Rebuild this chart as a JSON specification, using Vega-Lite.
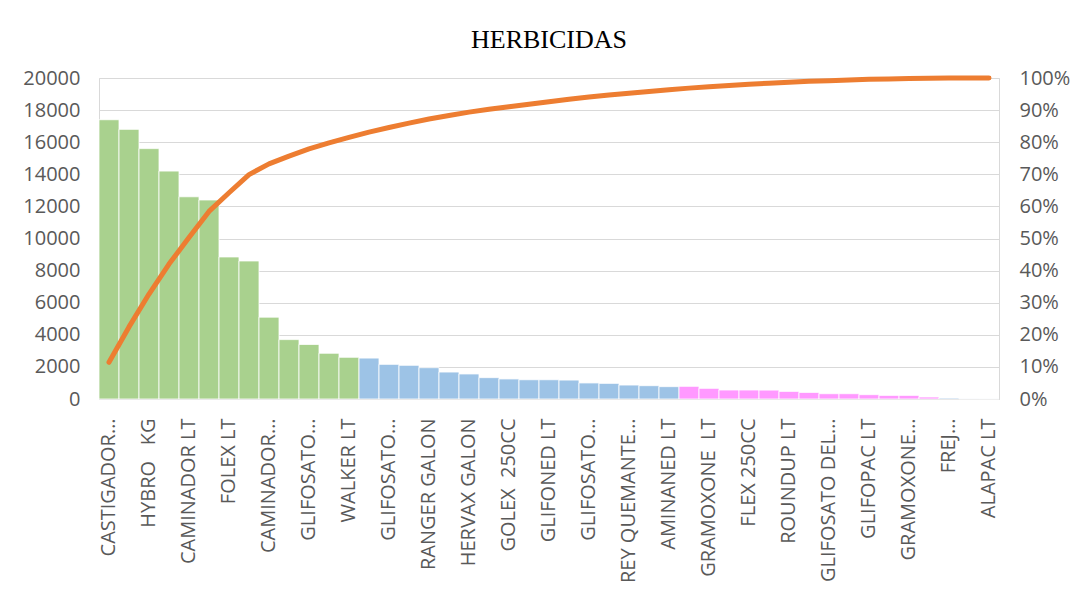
{
  "$schema": "https://vega.github.io/schema/vega-lite/v6.json",
  "width": 900,
  "height": 321,
  "autosize": "none",
  "padding": {"left": 99, "top": 78, "right": 79, "bottom": 204},
  "background": "#ffffff",
  "title": {"text": "HERBICIDAS", "font": "Liberation Serif", "fontSize": 26, "fontWeight": "normal", "color": "#000000", "anchor": "middle", "offset": 15},
  "config": {
    "view": {"stroke": "#D9D9D9"},
    "axis": {"labelFont": "Open Sans", "labelFontSize": 20, "labelColor": "#595959", "ticks": false, "domain": false}
  },
  "data": {"values": [
    {"producto": "CASTIGADOR…", "cantidad": 17400, "grupo": "A", "acumulado": 0.11425},
    {"producto": "producto 2", "cantidad": 16800, "grupo": "A", "acumulado": 0.22456},
    {"producto": "HYBRO\u00a0\u00a0\u00a0KG", "cantidad": 15600, "grupo": "A", "acumulado": 0.32699},
    {"producto": "producto 4", "cantidad": 14200, "grupo": "A", "acumulado": 0.42022},
    {"producto": "CAMINADOR LT", "cantidad": 12600, "grupo": "A", "acumulado": 0.50295},
    {"producto": "producto 6", "cantidad": 12400, "grupo": "A", "acumulado": 0.58437},
    {"producto": "FOLEX LT", "cantidad": 8850, "grupo": "A", "acumulado": 0.64248},
    {"producto": "producto 8", "cantidad": 8600, "grupo": "A", "acumulado": 0.69895},
    {"producto": "CAMINADOR…", "cantidad": 5100, "grupo": "A", "acumulado": 0.73244},
    {"producto": "producto 10", "cantidad": 3700, "grupo": "A", "acumulado": 0.75673},
    {"producto": "GLIFOSATO…", "cantidad": 3400, "grupo": "A", "acumulado": 0.77906},
    {"producto": "producto 12", "cantidad": 2850, "grupo": "A", "acumulado": 0.79777},
    {"producto": "WALKER LT", "cantidad": 2600, "grupo": "A", "acumulado": 0.81484},
    {"producto": "producto 14", "cantidad": 2550, "grupo": "B", "acumulado": 0.83158},
    {"producto": "GLIFOSATO…\u200b", "cantidad": 2160, "grupo": "B", "acumulado": 0.84577},
    {"producto": "producto 16", "cantidad": 2100, "grupo": "B", "acumulado": 0.85955},
    {"producto": "RANGER GALON", "cantidad": 1950, "grupo": "B", "acumulado": 0.87236},
    {"producto": "producto 18", "cantidad": 1680, "grupo": "B", "acumulado": 0.88339},
    {"producto": "HERVAX GALON", "cantidad": 1560, "grupo": "B", "acumulado": 0.89363},
    {"producto": "producto 20", "cantidad": 1330, "grupo": "B", "acumulado": 0.90236},
    {"producto": "GOLEX\u00a0\u00a0250CC", "cantidad": 1250, "grupo": "B", "acumulado": 0.91057},
    {"producto": "producto 22", "cantidad": 1200, "grupo": "B", "acumulado": 0.91845},
    {"producto": "GLIFONED LT", "cantidad": 1200, "grupo": "B", "acumulado": 0.92633},
    {"producto": "producto 24", "cantidad": 1180, "grupo": "B", "acumulado": 0.93408},
    {"producto": "GLIFOSATO…\u200b\u200b", "cantidad": 1000, "grupo": "B", "acumulado": 0.94064},
    {"producto": "producto 26", "cantidad": 975, "grupo": "B", "acumulado": 0.94705},
    {"producto": "REY QUEMANTE…", "cantidad": 870, "grupo": "B", "acumulado": 0.95276},
    {"producto": "producto 28", "cantidad": 830, "grupo": "B", "acumulado": 0.95821},
    {"producto": "AMINANED LT", "cantidad": 770, "grupo": "B", "acumulado": 0.96326},
    {"producto": "producto 30", "cantidad": 790, "grupo": "C", "acumulado": 0.96845},
    {"producto": "GRAMOXONE\u00a0\u00a0LT", "cantidad": 665, "grupo": "C", "acumulado": 0.97282},
    {"producto": "producto 32", "cantidad": 560, "grupo": "C", "acumulado": 0.97649},
    {"producto": "FLEX 250CC", "cantidad": 560, "grupo": "C", "acumulado": 0.98017},
    {"producto": "producto 34", "cantidad": 555, "grupo": "C", "acumulado": 0.98381},
    {"producto": "ROUNDUP LT", "cantidad": 475, "grupo": "C", "acumulado": 0.98693},
    {"producto": "producto 36", "cantidad": 410, "grupo": "C", "acumulado": 0.98962},
    {"producto": "GLIFOSATO DEL…", "cantidad": 330, "grupo": "C", "acumulado": 0.99179},
    {"producto": "producto 38", "cantidad": 330, "grupo": "C", "acumulado": 0.99396},
    {"producto": "GLIFOPAC LT", "cantidad": 270, "grupo": "C", "acumulado": 0.99573},
    {"producto": "producto 40", "cantidad": 225, "grupo": "C", "acumulado": 0.99721},
    {"producto": "GRAMOXONE…", "cantidad": 225, "grupo": "C", "acumulado": 0.99869},
    {"producto": "producto 42", "cantidad": 125, "grupo": "C", "acumulado": 0.99951},
    {"producto": "FREJ…", "cantidad": 60, "grupo": "B", "acumulado": 0.9999},
    {"producto": "producto 44", "cantidad": 10, "grupo": "B", "acumulado": 0.99997},
    {"producto": "ALAPAC LT", "cantidad": 5, "grupo": "B", "acumulado": 1.0}
  ]},
  "encoding": {
    "x": {
      "field": "producto", "type": "nominal", "sort": null,
      "scale": {"paddingInner": 0, "paddingOuter": 0},
      "axis": {
        "title": null, "labelAngle": -90, "labelPadding": 19, "grid": false,
        "labelOverlap": false,
        "values": ["CASTIGADOR…", "HYBRO\u00a0\u00a0\u00a0KG", "CAMINADOR LT", "FOLEX LT", "CAMINADOR…", "GLIFOSATO…", "WALKER LT", "GLIFOSATO…\u200b", "RANGER GALON", "HERVAX GALON", "GOLEX\u00a0\u00a0250CC", "GLIFONED LT", "GLIFOSATO…\u200b\u200b", "REY QUEMANTE…", "AMINANED LT", "GRAMOXONE\u00a0\u00a0LT", "FLEX 250CC", "ROUNDUP LT", "GLIFOSATO DEL…", "GLIFOPAC LT", "GRAMOXONE…", "FREJ…", "ALAPAC LT"]
      }
    }
  },
  "layer": [
    {
      "mark": {"type": "bar", "stroke": "#ffffff", "strokeWidth": 0.8},
      "encoding": {
        "y": {
          "field": "cantidad", "type": "quantitative",
          "scale": {"domain": [0, 20000]},
          "axis": {"title": null, "values": [0, 2000, 4000, 6000, 8000, 10000, 12000, 14000, 16000, 18000, 20000], "format": "d", "grid": true, "gridColor": "#D9D9D9", "labelPadding": 19}
        },
        "color": {
          "field": "grupo", "type": "nominal",
          "scale": {"domain": ["A", "B", "C"], "range": ["#A9D18E", "#9DC3E6", "#FF99FF"]},
          "legend": null
        }
      }
    },
    {
      "mark": {"type": "line", "color": "#ED7D31", "strokeWidth": 5, "strokeCap": "round", "strokeJoin": "round"},
      "encoding": {
        "y": {
          "field": "acumulado", "type": "quantitative",
          "scale": {"domain": [0, 1]},
          "axis": {"title": null, "orient": "right", "format": ".0%", "values": [0, 0.1, 0.2, 0.3, 0.4, 0.5, 0.6, 0.7, 0.8, 0.9, 1], "grid": false, "labelPadding": 20}
        }
      }
    }
  ],
  "resolve": {"scale": {"y": "independent"}}
}
